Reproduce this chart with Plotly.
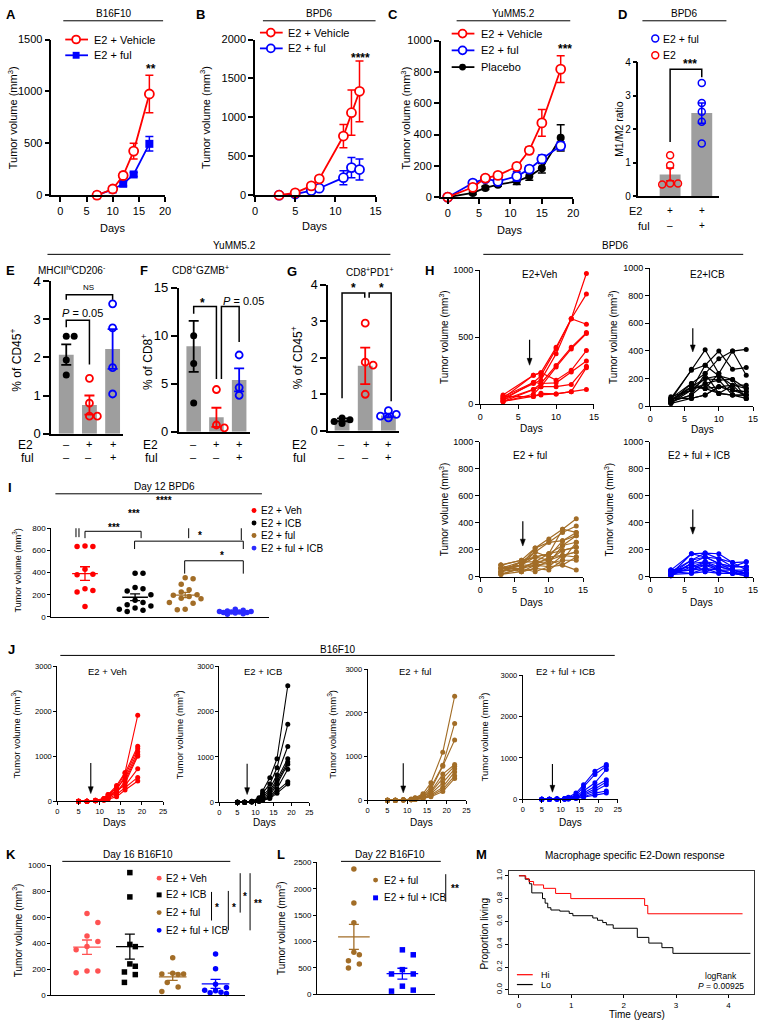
import numpy as np
import plotly.graph_objects as go

W, H = 767, 1030
FONT = "Arial, Liberation Sans, Helvetica, sans-serif"
RED = "#ff0000"; BLUE = "#0000ff"; BLACK = "#000000"; BROWN = "#a26d27"
GRAY = "#9e9e9e"; KRED = "#ff5252"; IBLUE = "#2b2bff"

# ===================== DATA =====================
# A  B16F10
a_days = [7, 10, 12, 14, 17]
a_veh = [0, 60, 190, 425, 975]
a_veh_sem = [10, 20, 30, 75, 180]
a_ful = [0, 55, 110, 200, 495]
a_ful_sem = [5, 10, 20, 20, 70]
# B  BPD6
b_days = [3, 5, 7, 8, 11, 12, 13]
b_veh = [0, 30, 120, 210, 760, 1060, 1335]
b_veh_sem = [5, 10, 25, 30, 150, 290, 390]
b_ful = [0, 15, 60, 90, 225, 355, 330]
b_ful_sem = [3, 10, 10, 15, 90, 130, 135]
# C  YuMM5.2
c_days = [0, 4, 6, 8, 11, 13, 15, 18]
c_veh = [0, 63, 122, 139, 196, 299, 474, 817]
c_veh_sem = [5, 10, 10, 15, 20, 20, 85, 85]
c_ful = [0, 90, 118, 101, 133, 179, 244, 328]
c_ful_sem = [5, 10, 10, 15, 30, 20, 25, 25]
c_pla = [0, 27, 59, 80, 101, 133, 185, 379]
c_pla_sem = [5, 10, 10, 10, 20, 25, 30, 84]
# D  M1/M2 ratio
d_e2_row = ["+", "+"]
d_ful_row = ["–", "+"]
d_mean = [0.65, 2.48]
d_sem = [0.19, 0.30]
d_pts = [[1.22, 0.92, 0.38, 0.38, 0.35], [3.38, 2.78, 2.52, 2.22, 1.57]]
# E-G rows
efg_e2_row = ["–", "+", "+"]
efg_ful_row = ["–", "–", "+"]
# E MHCIIhi CD206-
e_mean = [2.07, 0.75, 2.22]
e_sem = [0.27, 0.25, 0.52]
e_pts = [[2.55, 2.55, 1.93, 1.54], [1.45, 0.80, 0.46, 0.46], [3.40, 2.77, 1.73, 1.04]]
# F CD8+GZMB+
f_mean = [8.9, 1.5, 5.4]
f_sem = [2.65, 1.0, 1.2]
f_pts = [[10.0, 7.1, 3.0], [4.4, 0.7, 0.4], [8.0, 4.6, 3.8]]
# G CD8+PD1+
g_mean = [0.30, 1.78, 0.42]
g_sem = [0.04, 0.50, 0.05]
g_pts = [[0.35, 0.30, 0.25, 0.20], [2.95, 1.88, 1.80, 1.00], [0.55, 0.45, 0.40, 0.35]]
# H  BPD6 individual mice
h_days_veh = [3, 7, 8, 10, 12, 14]
h_days = [3, 6, 8, 10, 12, 14]
h_veh = [
    [69, 216, 235, 424, 637, 975], [56, 162, 211, 412, 637, 821], [44, 154, 179, 375, 637, 596],
    [32, 110, 154, 289, 424, 534], [20, 74, 130, 277, 412, 527], [44, 216, 235, 179, 252, 400],
    [32, 162, 154, 159, 240, 321], [20, 110, 130, 130, 147, 282], [56, 56, 81, 76, 93, 272],
    [20, 56, 69, 76, 93, 110]]
h_icb = [
    [44, 267, 408, 236, 399, 411], [56, 260, 296, 399, 267, 279], [32, 164, 236, 344, 399, 224],
    [20, 140, 200, 219, 152, 152], [68, 116, 164, 188, 193, 128], [44, 140, 128, 140, 116, 104],
    [32, 80, 236, 92, 80, 80], [20, 56, 80, 140, 152, 56], [56, 164, 128, 236, 116, 104],
    [44, 116, 200, 188, 80, 80], [32, 80, 164, 92, 152, 128], [20, 116, 296, 219, 193, 56],
    [56, 56, 80, 140, 116, 80], [44, 140, 128, 92, 80, 56]]
h_ful = [
    [85, 121, 211, 278, 351, 429], [61, 109, 182, 254, 327, 375], [85, 121, 145, 169, 351, 327],
    [61, 85, 182, 145, 266, 303], [36, 109, 109, 169, 230, 254], [61, 85, 145, 121, 194, 218],
    [36, 61, 85, 145, 157, 182], [17, 61, 109, 97, 230, 303], [85, 36, 61, 121, 157, 145],
    [36, 85, 85, 97, 121, 121], [61, 61, 36, 73, 85, 48], [17, 36, 61, 48, 121, 254],
    [36, 109, 145, 169, 194, 218], [61, 36, 85, 73, 157, 182], [17, 61, 109, 121, 85, 145],
    [36, 85, 211, 254, 266, 327]]
h_fulicb = [
    [48, 169, 174, 169, 104, 109], [36, 121, 145, 133, 73, 73], [17, 97, 109, 97, 48, 48],
    [7, 73, 85, 73, 48, 24], [48, 48, 61, 48, 24, 7], [36, 24, 36, 24, 24, 24],
    [17, 121, 174, 133, 104, 48], [7, 97, 145, 97, 73, 73], [48, 73, 109, 73, 48, 24],
    [36, 48, 85, 48, 24, 7], [17, 24, 61, 24, 24, 48], [7, 97, 36, 73, 73, 109],
    [36, 48, 109, 48, 48, 24], [17, 169, 145, 97, 73, 73]]
# I  Day 12 BPD6
i_veh = [640, 635, 635, 430, 385, 380, 255, 240, 225, 95]
i_icb = [395, 395, 265, 255, 235, 200, 150, 130, 110, 100, 80, 70, 60, 50]
i_ful = [355, 345, 295, 245, 225, 200, 195, 185, 170, 165, 130, 125, 70, 65]
i_fulicb = [70, 60, 55, 50, 50, 45, 45, 40, 40, 35, 30, 25]
# J  B16F10 individual mice
j_days_a = [5, 7, 9, 11, 12, 14, 16, 19]
j_days_b = [5, 7, 9, 11, 12, 14, 16, 19, 22]
j_veh = [
    [0, 0, 20, 60, 150, 350, 640, 1910], [0, 0, 10, 50, 120, 300, 620, 1220],
    [0, 0, 20, 40, 100, 250, 560, 1170], [0, 0, 10, 60, 150, 300, 500, 1100],
    [0, 0, 20, 50, 100, 200, 450, 1040], [0, 0, 10, 30, 80, 200, 400, 1000],
    [0, 0, 10, 40, 100, 250, 350, 720], [0, 0, 10, 30, 60, 150, 300, 530],
    [0, 0, 10, 20, 50, 100, 250, 450]]
j_icb = [
    [0, 0, 20, 100, 250, 540, 960, 2570], [0, 0, 10, 80, 200, 400, 760, 1720],
    [0, 0, 10, 60, 150, 300, 600, 1230], [0, 0, 20, 50, 120, 250, 500, 960],
    [0, 0, 10, 40, 100, 200, 450, 890], [0, 0, 10, 30, 80, 150, 400, 840],
    [0, 0, 10, 30, 60, 120, 300, 730], [0, 0, 5, 20, 50, 100, 250, 450],
    [0, 0, 5, 20, 40, 80, 200, 400]]
j_ful = [
    [0, 0, 10, 30, 60, 150, 400, 1100, 2380], [0, 0, 10, 20, 50, 120, 300, 800, 1760],
    [0, 0, 10, 20, 40, 100, 250, 780, 1380], [0, 0, 5, 20, 40, 80, 200, 600, 820],
    [0, 0, 5, 10, 30, 80, 180, 500, 780], [0, 0, 5, 10, 30, 60, 150, 400, 720],
    [0, 0, 5, 10, 20, 50, 120, 300, 650], [0, 0, 5, 10, 20, 40, 100, 250, 560],
    [0, 0, 5, 10, 20, 40, 80, 200, 500]]
j_fulicb = [
    [0, 0, 5, 20, 50, 150, 350, 680, 840], [0, 0, 5, 20, 40, 100, 300, 600, 800],
    [0, 0, 5, 10, 30, 80, 200, 400, 720], [0, 0, 5, 10, 20, 60, 150, 300, 470],
    [0, 0, 5, 10, 20, 50, 120, 250, 420], [0, 0, 5, 10, 20, 40, 100, 200, 350],
    [0, 0, 5, 10, 10, 30, 60, 150, 200], [0, 0, 5, 10, 10, 20, 50, 100, 150]]
# K  Day 16 B16F10
k_veh = [629, 561, 457, 414, 376, 351, 187, 187, 174]
k_icb = [944, 757, 392, 375, 242, 224, 180, 160, 100]
k_ful = [290, 170, 165, 160, 165, 100, 65, 30]
k_fulicb = [318, 205, 85, 60, 40, 35, 25, 20, 15]
# L  Day 22 B16F10
l_ful = [2375, 1731, 1356, 800, 750, 637, 575, 500]
l_fulicb = [844, 750, 469, 387, 387, 156, 81, 62]
# M  Kaplan-Meier
m_hi_t = [0, 0.13, 0.19, 0.28, 0.47, 0.70, 0.99, 2.40, 2.46, 4.27]
m_hi_s = [1.0, 0.975, 0.95, 0.92, 0.89, 0.845, 0.80, 0.74, 0.667, 0.667]
m_lo_t = [0, 0.12, 0.20, 0.245, 0.45, 0.50, 0.55, 0.61, 0.78, 0.96, 1.03, 1.41, 1.50,
          1.60, 1.67, 1.80, 2.26, 2.48, 2.73, 2.94, 4.42]
m_lo_s = [1.0, 0.97, 0.93, 0.85, 0.80, 0.76, 0.72, 0.70, 0.69, 0.67, 0.65, 0.63, 0.61,
          0.59, 0.57, 0.54, 0.46, 0.41, 0.37, 0.32, 0.32]

# ===================== HELPERS =====================
traces, shapes, annots = [], [], []
layout = dict(width=W, height=H, margin=dict(l=0, r=0, t=0, b=0), paper_bgcolor="white",
              plot_bgcolor="rgba(0,0,0,0)", showlegend=False, barmode="overlay",
              font=dict(family=FONT, color="black"))
geo = {}
counter = [0]


def X(x):
    return x / W


def Y(y):
    return 1 - y / H


def axes(xpx, ypx, xr, yr, xkw=None, ykw=None, lw=1.5, tf=10, tl=4):
    counter[0] += 1
    n = counter[0]
    s = "" if n == 1 else str(n)

    def base():
        return dict(showgrid=False, zeroline=False, showline=True, linecolor="black", linewidth=lw,
                    ticks="outside", ticklen=tl, tickwidth=lw, tickcolor="black",
                    ticklabeloverflow="allow",
                    tickfont=dict(size=tf, family=FONT, color="black"), fixedrange=True)
    xa = base(); xa.update(domain=[max(0, X(xpx[0])), min(1, X(xpx[1]))], range=xr, anchor="y" + s)
    ya = base(); ya.update(domain=[max(0, Y(ypx[1])), min(1, Y(ypx[0]))], range=yr, anchor="x" + s)
    if xkw: xa.update(xkw)
    if ykw: ya.update(ykw)
    layout["xaxis" + s] = xa
    layout["yaxis" + s] = ya
    geo["x" + s] = (xpx, ypx, xr, yr)
    return "x" + s, "y" + s


def scales(xn):
    xpx, ypx, xr, yr = geo[xn]
    return (xpx[1] - xpx[0]) / (xr[1] - xr[0]), (ypx[1] - ypx[0]) / (yr[1] - yr[0])


NOX = dict(ticks="", showticklabels=False)


def T(t, x, y, size=10, xa="center", ya="middle", angle=0, bold=False, color="black"):
    if bold:
        t = "<b>" + t + "</b>"
    annots.append(dict(text=t, x=X(x), y=Y(y), xref="paper", yref="paper", showarrow=False,
                       xanchor=xa, yanchor=ya, textangle=angle,
                       font=dict(size=size, color=color, family=FONT)))


def hline(x0, x1, y, w=1.0, color="black"):
    shapes.append(dict(type="line", xref="paper", yref="paper", x0=X(x0), x1=X(x1),
                       y0=Y(y), y1=Y(y), line=dict(color=color, width=w)))


def vline(x, y0, y1, w=1.0, color="black"):
    shapes.append(dict(type="line", xref="paper", yref="paper", x0=X(x), x1=X(x),
                       y0=Y(y0), y1=Y(y1), line=dict(color=color, width=w)))


def header(t, x0, x1, yt, yl, size=10, xc=None):
    T(t, (x0 + x1) / 2 if xc is None else xc, yt, size)
    hline(x0, x1, yl)


def mk(cx, cy, d, color, symbol="circle", filled=True, lw=1.5):
    r = d / 2
    shapes.append(dict(type="circle" if symbol == "circle" else "rect", xref="paper", yref="paper",
                       x0=X(cx - r), x1=X(cx + r), y0=Y(cy + r), y1=Y(cy - r),
                       fillcolor=color if filled else "white",
                       line=dict(color=color, width=0 if filled else lw)))


def swarm(vals, sx, sy, diam, maxw=40):
    placed = []
    res = [0.0] * len(vals)
    order = sorted(range(len(vals)), key=lambda i: -vals[i])
    cands = [0.0]
    for m in range(1, 30):
        c = m * diam * 0.5
        if c > maxw + 0.01:
            break
        cands += [c, -c]
    for i in order:
        yp = vals[i] * sy
        chosen = None
        best, bestd = 0.0, -1
        for c in cands:
            dmin = min([((c - a) ** 2 + (yp - b) ** 2) ** 0.5 for a, b in placed] or [1e9])
            if dmin >= diam * 0.97:
                chosen = c
                break
            if dmin > bestd:
                best, bestd = c, dmin
        if chosen is None:
            chosen = best
        placed.append((chosen, yp))
        res[i] = chosen / sx
    return res


def dots(xn, yn, center, vals, color, symbol="circle", size=6, diam=8, open_=False, lw=1.5, maxw=40):
    sx, sy = scales(xn)
    offs = swarm(vals, sx, sy, diam, maxw)
    marker = dict(symbol=symbol + ("-open" if open_ else ""), size=size, color=color)
    if open_:
        marker["line"] = dict(width=lw, color=color)
    else:
        marker["line"] = dict(width=0)
    traces.append(go.Scatter(x=[center + o for o in offs], y=vals, mode="markers", marker=marker,
                             xaxis=xn, yaxis=yn, cliponaxis=False, hoverinfo="skip"))


def errbar(xn, yn, x, mean, sem, color, lw=1.5, cap=4, halfw_px=None):
    kw = {}
    if halfw_px:
        sx, _ = scales(xn)
        kw["error_x"] = dict(type="data", array=[halfw_px / sx], color=color, thickness=lw, width=0)
    traces.append(go.Scatter(x=[x], y=[mean], mode="markers", marker=dict(size=1, color="rgba(0,0,0,0)"),
                             error_y=dict(type="data", array=[sem], color=color, thickness=lw, width=cap),
                             xaxis=xn, yaxis=yn, cliponaxis=False, hoverinfo="skip", **kw))


def growth(xn, yn, x, y, sem, color, symbol, size, filled, lw=1.8):
    marker = dict(symbol=symbol, size=size, color=color if filled else "white",
                  line=dict(color=color, width=0 if filled else 1.8))
    traces.append(go.Scatter(x=x, y=y, mode="lines+markers", line=dict(color=color, width=lw),
                             marker=marker, error_y=dict(type="data", array=sem, color=color,
                                                         thickness=1.5, width=4),
                             xaxis=xn, yaxis=yn, cliponaxis=False, hoverinfo="skip"))


def bracket(xn, yn, x0, x1, ytop, yl0, yl1, lw=1.5):
    shapes.append(dict(type="path", xref=xn, yref=yn,
                       path=f"M {x0},{yl0} L {x0},{ytop} L {x1},{ytop} L {x1},{yl1}",
                       line=dict(color="black", width=lw)))


def arrow(xn, yn, x, y_tail, y_tip, w=1.2, head_w=5.0, head_h=7.0):
    sx, sy = scales(xn)
    hh = head_h / sy
    hw = head_w / 2 / sx
    shapes.append(dict(type="line", xref=xn, yref=yn, x0=x, x1=x, y0=y_tail, y1=y_tip + hh * 0.6,
                       line=dict(color="black", width=w)))
    shapes.append(dict(type="path", xref=xn, yref=yn,
                       path=f"M {x - hw},{y_tip + hh} L {x + hw},{y_tip + hh} L {x},{y_tip} Z",
                       fillcolor="black", line=dict(color="black", width=0.5)))


def mice(xn, yn, days, series, color, size=5, lw=1.2):
    for m in series:
        traces.append(go.Scatter(x=days, y=m, mode="lines+markers", line=dict(color=color, width=lw),
                                 marker=dict(size=size, color=color), xaxis=xn, yaxis=yn,
                                 cliponaxis=False, hoverinfo="skip"))


TV = "Tumor volume (mm<sup>3</sup>)"
TOP_T, TOP_L, LET_Y = 7, 14, 8

# ===================== PANEL A =====================
xa, ya = axes((49, 164), (33, 191), [-1.7, 20], [0, 1500], xkw=dict(tickvals=[0, 5, 10, 15, 20]),
              ykw=dict(tickvals=[0, 500, 1000, 1500]), tf=11, tl=5)
growth(xa, ya, a_days, a_ful, a_ful_sem, BLUE, "square", 8, True)
growth(xa, ya, a_days, a_veh, a_veh_sem, RED, "circle", 9, False)
T("A", 1, LET_Y, 13, xa="left", bold=True)
header("B16F10", 61, 162, TOP_T, TOP_L, 10)
T(TV, 10, 112, 11, angle=-90)
T("Days", 111, 224, 11)
hline(63, 86, 33, 1.8, RED); mk(74, 33, 8, RED, filled=False, lw=1.8)
T("E2 + Vehicle", 90, 33, 11, xa="left")
hline(63, 86, 49, 1.8, BLUE); mk(74, 49, 7, BLUE, symbol="square")
T("E2 + ful", 90, 49, 11, xa="left")
T("**", 150, 63, 12, bold=True)

# ===================== PANEL B =====================
xb, yb = axes((255, 377), (33, 191), [0, 15], [0, 2000], xkw=dict(tickvals=[0, 5, 10, 15]),
              ykw=dict(tickvals=[0, 500, 1000, 1500, 2000]), tf=11, tl=5)
growth(xb, yb, b_days, b_ful, b_ful_sem, BLUE, "circle", 9, False)
growth(xb, yb, b_days, b_veh, b_veh_sem, RED, "circle", 9, False)
T("B", 200, LET_Y, 13, bold=True)
header("BPD6", 263, 377, TOP_T, TOP_L, 10)
T(TV, 205, 112, 11, angle=-90)
T("Days", 316, 222, 11)
hline(260, 283, 26, 1.8, RED); mk(271, 26, 8, RED, filled=False, lw=1.8)
T("E2 + Vehicle", 286, 26, 11, xa="left")
hline(260, 283, 42, 1.8, BLUE); mk(271, 42, 8, BLUE, filled=False, lw=1.8)
T("E2 + ful", 286, 42, 11, xa="left")
T("****", 362, 52, 12, bold=True)

# ===================== PANEL C =====================
xc, yc = axes((443, 577), (34, 193), [-1.1, 20], [0, 1000], xkw=dict(tickvals=[0, 5, 10, 15, 20]),
              ykw=dict(tickvals=[0, 200, 400, 600, 800, 1000]), tf=11, tl=5)
growth(xc, yc, c_days, c_pla, c_pla_sem, BLACK, "circle", 8, True)
growth(xc, yc, c_days, c_ful, c_ful_sem, BLUE, "circle", 9, False)
growth(xc, yc, c_days, c_veh, c_veh_sem, RED, "circle", 9, False)
T("C", 395, LET_Y, 13, bold=True)
header("YuMM5.2", 459, 574, TOP_T, TOP_L, 10)
T(TV, 408, 113, 11, angle=-90)
T("Days", 513, 226, 11)
hline(454, 477, 27, 1.8, RED); mk(465, 27, 8, RED, filled=False, lw=1.8)
T("E2 + Vehicle", 482, 27, 11, xa="left")
hline(454, 477, 44, 1.8, BLUE); mk(465, 44, 8, BLUE, filled=False, lw=1.8)
T("E2 + ful", 482, 44, 11, xa="left")
hline(454, 477, 61, 1.8, BLACK); mk(465, 61, 7, BLACK)
T("Placebo", 482, 61, 11, xa="left")
T("***", 569, 43, 12, bold=True)

# ===================== PANEL D =====================
xd, yd = axes((643, 725), (56, 192), [-1.0, 1.56], [0, 4], xkw=NOX,
              ykw=dict(tickvals=[0, 1, 2, 3, 4]), tf=10, tl=4)
traces.append(go.Bar(x=[0, 1], y=d_mean, width=0.66, marker=dict(color=GRAY, line=dict(width=0)),
                     xaxis=xd, yaxis=yd, hoverinfo="skip"))
errbar(xd, yd, 0, d_mean[0], d_sem[0], RED)
errbar(xd, yd, 1, d_mean[1], d_sem[1], BLUE)
dots(xd, yd, 0, d_pts[0], RED, size=7, diam=8, open_=True, maxw=9)
dots(xd, yd, 1, d_pts[1], BLUE, size=7, diam=8, open_=True, maxw=9)
bracket(xd, yd, 0, 1, 3.79, 1.62, 3.55)
T("***", 695, 58, 12, bold=True)
T("D", 627, LET_Y, 13, bold=True)
header("BPD6", 647, 732, TOP_T, TOP_L, 10)
T("M1/M2 ratio", 624, 124, 10.5, angle=-90)
mk(660, 32, 7, BLUE, filled=False)
T("E2 + ful", 666, 32, 10.5, xa="left")
mk(660, 49, 7, RED, filled=False)
T("E2", 666, 49, 10.5, xa="left")
T("E2", 640, 207, 11)
T("ful", 649, 222, 11)
for k, (p, q) in enumerate(zip(d_e2_row, d_ful_row)):
    T(p, 675 + 32 * k, 207, 10)
    T(q, 675 + 32 * k, 222, 10)

# ===================== ROW 2 headers =====================
header("YuMM5.2", 45, 392, 242, 251, 10, xc=234)
header("BPD6", 486, 749, 242, 251, 10, xc=620)


def bar_panel(xn, yn, means, sems, pts, centers_px):
    traces.append(go.Bar(x=[0, 1, 2], y=means, width=0.64, marker=dict(color=GRAY, line=dict(width=0)),
                         xaxis=xn, yaxis=yn, hoverinfo="skip"))
    cols = [BLACK, RED, BLUE]
    for k in range(3):
        errbar(xn, yn, k, means[k], sems[k], cols[k], lw=1.8, cap=5)
        dots(xn, yn, k, pts[k], cols[k], size=7, diam=8, open_=(k > 0), lw=1.8, maxw=9)
    for k in range(3):
        T(efg_e2_row[k], centers_px[k], 443, 11)
        T(efg_ful_row[k], centers_px[k], 457, 11)


# ===================== PANEL E =====================
xe, ye = axes((49, 121), (278, 433), [-0.64, 2.43], [0, 4], xkw=NOX,
              ykw=dict(tickvals=[0, 1, 2, 3, 4]), lw=2, tf=13, tl=6)
bar_panel(xe, ye, e_mean, e_sem, e_pts, [64, 87, 111])
bracket(xe, ye, 0, 2, 3.64, 3.51, 3.51)
T("NS", 87, 285, 8)
bracket(xe, ye, 0, 1, 2.97, 2.79, 1.81)
T("<i>P</i> = 0.05", 80, 311, 11)
T("E", 1, 267, 13, xa="left", bold=True)
T("MHCII<sup>hi</sup>CD206<sup>-</sup>", 70, 267, 10)
T("% of CD45<sup>+</sup>", 13, 358, 12, angle=-90)
T("E2", 23, 444, 12); T("ful", 25, 458, 12)

# ===================== PANEL F =====================
xf, yf = axes((178, 250), (285, 431), [-0.65, 2.48], [0, 15], xkw=NOX,
              ykw=dict(tickvals=[0, 5, 10, 15]), lw=2, tf=13, tl=6)
bar_panel(xf, yf, f_mean, f_sem, f_pts, [193, 216, 239])
bracket(xf, yf, 0, 1.0, 13.05, 12.3, 5.5)
bracket(xf, yf, 1.22, 2.0, 13.05, 5.5, 9.35)
T("*", 202, 300, 12, bold=True)
T("<i>P</i> = 0.05", 243, 298, 11)
T("F", 143, 267, 13, bold=True)
T("CD8<sup>+</sup>GZMB<sup>+</sup>", 200, 267, 10)
T("% of CD8<sup>+</sup>", 145, 360, 12, angle=-90)
T("E2", 149, 444, 12); T("ful", 150, 458, 12)

# ===================== PANEL G =====================
xg, yg = axes((329, 401), (282, 430), [-0.6, 2.47], [0, 4], xkw=NOX,
              ykw=dict(tickvals=[0, 1, 2, 3, 4]), lw=2, tf=12.5, tl=6)
bar_panel(xg, yg, g_mean, g_sem, g_pts, [343, 367, 390])
bracket(xg, yg, 0, 0.98, 3.78, 0.89, 3.65)
bracket(xg, yg, 1.17, 2.12, 3.78, 3.65, 0.81)
T("*", 355, 285, 12, bold=True)
T("*", 383, 285, 12, bold=True)
T("G", 292, 268, 13, bold=True)
T("CD8<sup>+</sup>PD1<sup>+</sup>", 371, 269, 10)
T("% of CD45<sup>+</sup>", 297, 356, 12, angle=-90)
T("E2", 300, 444, 12); T("ful", 300, 458, 12)

# ===================== PANEL H =====================
hy5 = dict(tickvals=[0, 200, 400, 600, 800, 1000])
hx = dict(tickvals=[0, 5, 10, 15])
xh1, yh1 = axes((483, 598), (267, 403), [0, 15], [0, 1000], xkw=hx, ykw=dict(tickvals=[0, 500, 1000]), lw=1.3, tf=9, tl=4)
mice(xh1, yh1, h_days_veh, h_veh, RED)
arrow(xh1, yh1, 6.5, 480, 290)
T("E2+Veh", 543, 271, 10)
T(TV, 446, 335, 10, angle=-90)
T("Days", 535, 428, 10)
T("H", 432, 267, 13, bold=True)

xh2, yh2 = axes((655, 759), (265, 405), [0, 15], [0, 1000], xkw=hx, ykw=hy5, lw=1.3, tf=9, tl=4)
mice(xh2, yh2, h_days, h_icb, BLACK)
arrow(xh2, yh2, 6.2, 564, 393)
T("E2+ICB", 713, 271, 10)
T(TV, 617, 335, 10, angle=-90)
T("Days", 708, 429, 10)

xh3, yh3 = axes((483, 587), (441, 578), [0, 15], [0, 1000], xkw=hx, ykw=hy5, lw=1.3, tf=9, tl=4)
mice(xh3, yh3, h_days, h_ful, BROWN)
arrow(xh3, yh3, 6.2, 409, 226)
T("E2 + ful", 533, 455, 10)
T(TV, 446, 510, 10, angle=-90)
T("Days", 535, 604, 10)

xh4, yh4 = axes((655, 759), (441, 578), [0, 15], [0, 1000], xkw=hx, ykw=hy5, lw=1.3, tf=9, tl=4)
mice(xh4, yh4, h_days, h_fulicb, BLUE)
arrow(xh4, yh4, 6.2, 496, 314)
T("E2 + ful + ICB", 705, 455, 10)
T(TV, 613, 510, 10, angle=-90)
T("Days", 707, 604, 10)

# ===================== PANEL I =====================
xi, yi = axes((49, 269), (529, 619), [-0.67, 3.67], [0, 800], xkw=NOX,
              ykw=dict(tickvals=[0, 200, 400, 600, 800]), lw=1.3, tf=8, tl=3)
for k, (vals, col, mw) in enumerate([(i_veh, RED, 12), (i_icb, BLACK, 16), (i_ful, BROWN, 16), (i_fulicb, IBLUE, 16)]):
    dots(xi, yi, k, vals, col, size=5.5, diam=8, maxw=mw)
    mean = float(np.mean(vals)); sem = float(np.std(vals, ddof=1) / np.sqrt(len(vals)))
    errbar(xi, yi, k, mean, sem, col, lw=1.3, cap=5, halfw_px=13)
bracket(xi, yi, -0.18, 3.12, 1004, 720, 693, lw=1)
bracket(xi, yi, -0.12, 2.07, 889, 720, 711, lw=1)
bracket(xi, yi, 0, 1.12, 773, 711, 711, lw=1)
bracket(xi, yi, 0.99, 3.16, 684, 613, 613, lw=1)
bracket(xi, yi, 1.99, 3.16, 507, 391, 391, lw=1)
T("****", 163, 501, 10, bold=True)
T("***", 133, 514, 10, bold=True)
T("***", 112, 528, 10, bold=True)
T("*", 199, 536, 10, bold=True)
T("*", 222, 557, 10, bold=True)
T("I", 3, 488, 13, xa="left", bold=True)
header("Day 12 BPD6", 53, 262, 487, 494, 10, xc=163)
T(TV, 14, 572, 9, angle=-90)
for k, (lab, col) in enumerate([("E2 + Veh", RED), ("E2 + ICB", BLACK), ("E2 + ful", BROWN),
                                  ("E2 + ful + ICB", IBLUE)]):
    yy = 511 + 12.7 * k
    mk(254, yy, 5, col)
    T(lab, 259, yy, 10, xa="left")

# ===================== PANEL J =====================
jx = dict(tickvals=[0, 5, 10, 15, 20, 25])
jy = dict(tickvals=[0, 1000, 2000, 3000])
header("B16F10", 58, 619, 652, 658, 10, xc=338)
T("J", 3, 652, 13, xa="left", bold=True)
jspecs = [((55, 162), (669, 806), j_days_a, j_veh, RED, "E2 + Veh", 106, 7.9, 13, 113),
          ((219, 310), (669, 807), j_days_a, j_icb, BLACK, "E2 + ICB", 263, 7.7, 178, 265),
          ((369, 469), (672, 805), j_days_b, j_ful, BROWN, "E2 + ful", 417, 9.0, 333, 423),
          ((526, 622), (678, 804), j_days_b, j_fulicb, BLUE, "E2 + ful + ICB", 569, 7.8, 487, 574)]
for xpx, ypx, days, ser, col, title, tx, ax_, ytx, dx in jspecs:
    xj, yj = axes(xpx, ypx, [0, 25], [0, 3000], xkw=jx, ykw=jy, lw=1.1, tf=7.5, tl=3)
    mice(xj, yj, days, ser, col, size=5, lw=1.1)
    arrow(xj, yj, ax_, 850, 170, w=1.1)
    T(title, tx, 674, 9.5)
    T(TV, ytx, (ypx[0] + ypx[1]) / 2, 9.5, angle=-90)
    T("Days", dx, 828, 10)

# ===================== PANEL K =====================
xk, yk = axes((49, 245), (871, 1003), [-0.83, 3.69], [0, 1000], xkw=NOX,
              ykw=dict(tickvals=[0, 200, 400, 600, 800, 1000]), lw=1.3, tf=8, tl=3)
kgroups = [(k_veh, KRED, "circle", 13), (k_icb, BLACK, "square", 8), (k_ful, BROWN, "circle", 13),
           (k_fulicb, BLUE, "circle", 13)]
for k, (vals, col, sym, mw) in enumerate(kgroups):
    dots(xk, yk, k, vals, col, symbol=sym, size=5.5, diam=11, maxw=mw)
    mean = float(np.mean(vals)); sem = float(np.std(vals, ddof=1) / np.sqrt(len(vals)))
    errbar(xk, yk, k, mean, sem, col, lw=1.3, cap=5, halfw_px=14)
T("K", 1, 860, 13, xa="left", bold=True)
header("Day 16 B16F10", 60, 230, 860, 867, 10, xc=137)
T(TV, 15, 937, 10, angle=-90)
for k, (lab, col, sym) in enumerate([("E2 + Veh", KRED, "circle"), ("E2 + ICB", BLACK, "square"),
                                       ("E2 + ful", BROWN, "circle"), ("E2 + ful + ICB", BLUE, "circle")]):
    yy = [884, 901, 919, 937][k]
    mk(158, yy, 5, col, symbol=sym)
    T(lab, 163, yy, 10, xa="left")
vline(211, 898, 927); T("*", 217, 914, 10, bold=True)
vline(228, 897, 937); T("*", 234, 914, 10, bold=True)
vline(240, 879, 919); T("*", 245, 903, 10, bold=True)
vline(250, 879, 937); T("**", 258, 910, 10, bold=True)

# ===================== PANEL L =====================
xl, yl = axes((318, 437), (868, 1002), [-0.755, 1.67], [0, 2500], xkw=NOX,
              ykw=dict(tickvals=[0, 500, 1000, 1500, 2000, 2500]), lw=1.3, tf=8, tl=3)
for k, (vals, col, sym, mw) in enumerate([(l_ful, BROWN, "circle", 9), (l_fulicb, BLUE, "square", 11)]):
    dots(xl, yl, k, vals, col, symbol=sym, size=5.5, diam=11, maxw=mw)
    mean = float(np.mean(vals)); sem = float(np.std(vals, ddof=1) / np.sqrt(len(vals)))
    errbar(xl, yl, k, mean, sem, col, lw=1.3, cap=5, halfw_px=16)
T("L", 281, 860, 13, bold=True)
header("Day 22 B16F10", 342, 443, 860, 867, 10, xc=392)
T(TV, 282, 935, 10, angle=-90)
mk(377, 886, 5, BROWN); T("E2 + ful", 383, 886, 10, xa="left")
mk(377, 904, 5, BLUE, symbol="square"); T("E2 + ful + ICB", 383, 904, 10, xa="left")
vline(448, 880, 908); T("**", 457, 895, 10, bold=True)

# ===================== PANEL M =====================
xm, ym = axes((512, 760), (877, 1002), [-0.19, 4.49], [-0.04, 1.04],
              xkw=dict(tickvals=[0, 1, 2, 3, 4], mirror=True, linecolor="#333"),
              ykw=dict(tickvals=[0, 0.2, 0.4, 0.6, 0.8, 1.0], tickformat=".1f", tickangle=-90,
                       mirror=True, linecolor="#333"), lw=1, tf=8, tl=3)
traces.append(go.Scatter(x=m_lo_t, y=m_lo_s, mode="lines", line=dict(color=BLACK, width=1, shape="hv"),
                         xaxis=xm, yaxis=ym, hoverinfo="skip"))
traces.append(go.Scatter(x=m_hi_t, y=m_hi_s, mode="lines", line=dict(color=RED, width=1, shape="hv"),
                         xaxis=xm, yaxis=ym, hoverinfo="skip"))
T("M", 484, 860, 13, bold=True)
T("Macrophage specific E2-Down response", 639, 861, 10)
T("Proportion living", 487, 940, 10, angle=-90)
T("Time (years)", 642, 1022, 10)
hline(520, 536, 982, 1.2, RED); T("Hi", 542, 982, 9, xa="left")
hline(520, 536, 992, 1.2, BLACK); T("Lo", 542, 992, 9, xa="left")
T("logRank", 727, 983, 8.5)
T("<i>P</i> = 0.00925", 727, 993, 8.5)

layout["shapes"] = shapes
layout["annotations"] = annots
fig = go.Figure(data=traces, layout=layout)
PIN = ("document.documentElement.style.margin='0';document.documentElement.style.padding='0';"
       "document.documentElement.style.overflow='hidden';"
       "document.body.style.margin='0';document.body.style.padding='0';document.body.style.overflow='hidden';"
       "var gd=document.getElementById('{plot_id}');gd.style.position='fixed';gd.style.left='0px';"
       "gd.style.top='0px';")
fig.write_html("out.html", config={"displayModeBar": False, "responsive": False}, post_script=PIN)
